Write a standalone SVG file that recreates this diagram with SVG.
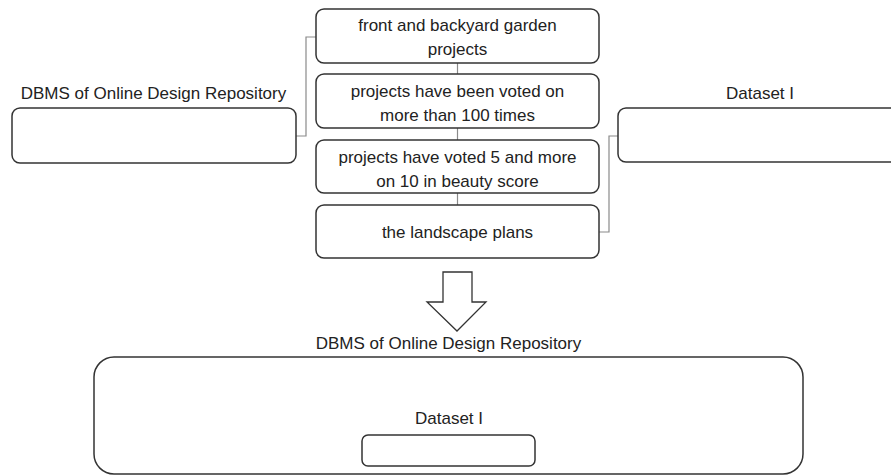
<svg xmlns="http://www.w3.org/2000/svg" width="891" height="475" viewBox="0 0 891 475">
  <style>
    .box { fill: #ffffff; stroke: #333333; stroke-width: 1.5; }
    .link { fill: none; stroke: #8a8a8a; stroke-width: 1.2; }
    .txt { font-family: "Liberation Sans", Arial, sans-serif; font-size: 17px; fill: #222222; text-anchor: middle; }
  </style>
  <rect width="891" height="475" fill="#ffffff"/>

  <!-- connectors -->
  <g id="connectors">
    <path class="link" d="M296,136 H306 V37 H316"/>
    <path class="link" d="M599,232 H609 V136 H618"/>
    <path class="link" d="M457.5,63 V74"/>
    <path class="link" d="M457.5,128 V140"/>
    <path class="link" d="M457.5,193 V205"/>
  </g>

  <!-- source repository -->
  <g id="source-dbms">
    <text class="txt" x="153.5" y="99">DBMS of Online Design Repository</text>
    <rect class="box" x="12" y="108" width="284" height="55" rx="8"/>
  </g>

  <!-- filtering steps -->
  <g id="step-garden">
    <rect class="box" x="316" y="9" width="283" height="54" rx="8"/>
    <text class="txt" x="457.5" y="31">front and backyard garden</text>
    <text class="txt" x="457.5" y="55">projects</text>
  </g>
  <g id="step-votes">
    <rect class="box" x="316" y="74" width="283" height="54" rx="8"/>
    <text class="txt" x="457.5" y="97">projects have been voted on</text>
    <text class="txt" x="457.5" y="121">more than 100 times</text>
  </g>
  <g id="step-beauty">
    <rect class="box" x="316" y="140" width="283" height="53" rx="8"/>
    <text class="txt" x="457.5" y="163">projects have voted 5 and more</text>
    <text class="txt" x="457.5" y="187">on 10 in beauty score</text>
  </g>
  <g id="step-plans">
    <rect class="box" x="316" y="205" width="283" height="53" rx="8"/>
    <text class="txt" x="457.5" y="238">the landscape plans</text>
  </g>

  <!-- resulting dataset -->
  <g id="dataset-one">
    <text class="txt" x="760" y="99">Dataset I</text>
    <rect class="box" x="618" y="108" width="300" height="54" rx="8"/>
  </g>

  <!-- block arrow -->
  <g id="down-arrow">
    <path d="M443,272 H472 V302 H486 L457,331 L427,302 H443 Z" fill="#ffffff" stroke="#333333" stroke-width="1.3" stroke-linejoin="miter"/>
  </g>

  <!-- repository containing the dataset -->
  <g id="target-dbms">
    <text class="txt" x="448.5" y="349">DBMS of Online Design Repository</text>
    <rect class="box" x="94" y="357" width="709" height="117" rx="20"/>
  </g>
  <g id="target-dataset">
    <text class="txt" x="449" y="424">Dataset I</text>
    <rect class="box" x="362" y="435" width="173" height="31" rx="6"/>
  </g>
</svg>
